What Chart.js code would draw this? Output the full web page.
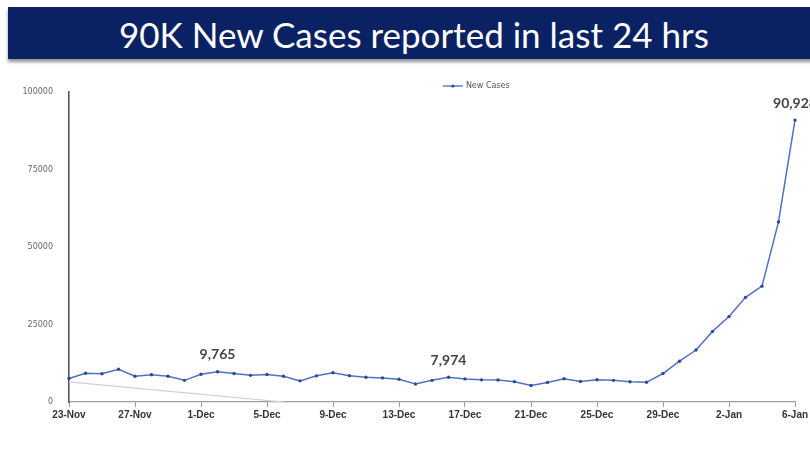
<!DOCTYPE html>
<html>
<head>
<meta charset="utf-8">
<script src="https://cdn.jsdelivr.net/npm/chart.js@4.4.1/dist/chart.umd.min.js"></script>
<style>
  html, body { margin: 0; padding: 0; background: #fff; overflow: hidden; width: 810px; height: 461px; }
  #banner {
    position: absolute; left: 8px; top: 7px; width: 810px; height: 52px;
    background: #0a2163; color: #fff; font-family: Lato, "Open Sans", sans-serif;
    font-size: 35px; line-height: 54px; box-shadow: 0 3px 3px rgba(60,60,80,0.55);
  }
  #banner span { position: absolute; left: 111px; top: 0; white-space: nowrap; }
  #wrap { position: absolute; left: 0; top: 62px; width: 830px; height: 399px; }
</style>
</head>
<body>
<div id="banner"><span>90K New Cases reported in last 24 hrs</span></div>
<div id="wrap"><canvas id="line-chart"></canvas></div>
<script>
var dates = ["23-Nov","24-Nov","25-Nov","26-Nov","27-Nov","28-Nov","29-Nov","30-Nov",
  "1-Dec","2-Dec","3-Dec","4-Dec","5-Dec","6-Dec","7-Dec","8-Dec","9-Dec","10-Dec",
  "11-Dec","12-Dec","13-Dec","14-Dec","15-Dec","16-Dec","17-Dec","18-Dec","19-Dec",
  "20-Dec","21-Dec","22-Dec","23-Dec","24-Dec","25-Dec","26-Dec","27-Dec","28-Dec",
  "29-Dec","30-Dec","31-Dec","1-Jan","2-Jan","3-Jan","4-Jan","5-Jan","6-Jan"];
var newCases = [7579, 9283, 9119, 10549, 8318, 8774, 8309, 6990, 8954, 9765, 9216, 8603,
  8895, 8306, 6822, 8439, 9419, 8503, 7992, 7774, 7350, 5784, 6984, 7974, 7447, 7145,
  7081, 6563, 5326, 6317, 7495, 6650, 7189, 6987, 6531, 6358, 9195, 13154, 16764,
  22775, 27553, 33750, 37379, 58097, 90928];
// faint trend line in the original, only its two ends
var trend = [6500, null, null, null, null, null, null, null, null, null, null, null, null, 0];
var labelled = [9, 23, 44];
var yTicks = [0, 25000, 50000, 75000, 100000];

var pointLabels = {
  id: 'pointLabels',
  afterDatasetsDraw: function (chart) {
    var ctx = chart.ctx;
    var meta = chart.getDatasetMeta(0);
    ctx.save();
    ctx.font = 'bold 14px Lato, sans-serif';
    ctx.fillStyle = '#444';
    ctx.textAlign = 'center';
    ctx.textBaseline = 'middle';
    labelled.forEach(function (i) {
      var p = meta.data[i];
      ctx.fillText(newCases[i].toLocaleString('en-US'), p.x, p.y - 17);
    });
    // legend
    var a = chart.chartArea;
    var lx = a.left + (a.right - a.left) * 0.515;
    var ly = a.top - 6;
    ctx.strokeStyle = '#4a6cc0';
    ctx.lineWidth = 1.3;
    ctx.beginPath();
    ctx.moveTo(lx, ly);
    ctx.lineTo(lx + 20, ly);
    ctx.stroke();
    ctx.fillStyle = '#2b4a94';
    ctx.beginPath();
    ctx.arc(lx + 10, ly, 1.6, 0, Math.PI * 2);
    ctx.fill();
    ctx.font = '8px "DejaVu Sans", sans-serif';
    ctx.fillStyle = '#555';
    ctx.textAlign = 'left';
    ctx.fillText('New Cases', lx + 23, ly);
    ctx.restore();
  }
};

var ctx = document.getElementById('line-chart').getContext('2d');
var chart = new Chart(ctx, {
  type: 'line',
  data: {
    labels: dates,
    datasets: [{
      label: 'New Cases',
      data: newCases,
      borderColor: '#4f72c4',
      borderWidth: 1.5,
      pointRadius: 1.7,
      pointBackgroundColor: '#2b4a94',
      pointBorderWidth: 0,
      tension: 0,
      fill: false
    }, {
      label: 'trend',
      data: trend,
      spanGaps: true,
      borderColor: '#c9d1e3',
      borderWidth: 1.2,
      pointRadius: 0,
      fill: false
    }]
  },
  options: {
    responsive: true,
    maintainAspectRatio: false,
    animation: false,
    layout: { padding: { left: 0, right: 35, top: 30, bottom: 32 } },
    plugins: { legend: { display: false }, tooltip: { enabled: false } },
    scales: {
      x: {
        offset: false,
        grid: {
          drawOnChartArea: false,
          drawTicks: true,
          tickLength: 5,
          color: function (c) { return c.index % 4 === 0 ? '#999' : 'rgba(0,0,0,0)'; }
        },
        border: { color: '#a0a0a0', width: 1.2 },
        ticks: {
          autoSkip: false,
          maxRotation: 0,
          padding: 2,
          color: '#333',
          font: { family: 'Liberation Sans', size: 10, weight: 'bold' },
          callback: function (v, i) { return i % 4 === 0 ? dates[i] : ''; }
        },
        afterFit: function (s) { s.height = 27; }
      },
      y: {
        min: 0,
        max: 100000,
        afterBuildTicks: function (s) { s.ticks = yTicks.map(function (v) { return { value: v }; }); },
        grid: { display: true, drawOnChartArea: false, drawTicks: false },
        border: { color: '#555', width: 1.6 },
        ticks: {
          padding: 16,
          color: '#666',
          font: { family: 'DejaVu Sans', size: 8 },
          callback: function (v) { return String(v); }
        },
        afterFit: function (s) { s.width = 69; }
      }
    }
  },
  plugins: [pointLabels]
});
</script>
</body>
</html>
